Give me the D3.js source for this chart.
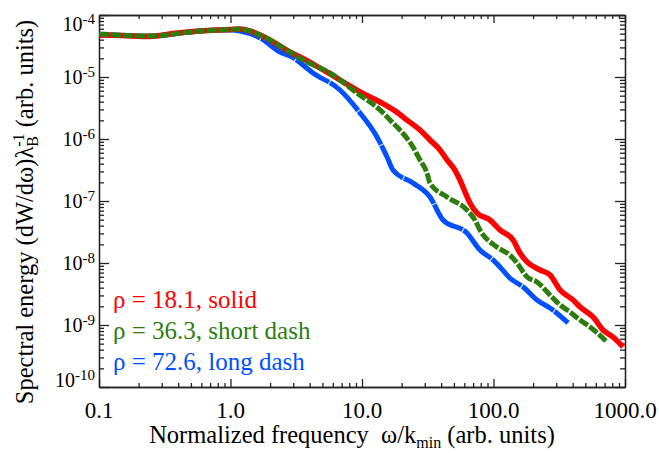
<!DOCTYPE html>
<meta charset="utf-8">

<head>
  <script src="https://d3js.org/d3.v7.min.js"></script>
</head>
<style>
  body {
    margin: 0;
    background: #fff;
  }

  text {
    font-family: "Liberation Serif", "Times New Roman", serif;
  }

  .axis path,
  .axis line {
    stroke: #222;
    stroke-width: 1.3;
  }
</style>

<body>
  <script>
    // spectra: frequency (omega/k_min) and energy
    var redFreq = [0.1, 0.15, 0.244, 0.392, 0.586, 1.0, 1.18, 1.41, 1.68, 2.18, 2.83, 3.38, 4.39, 5.71, 7.43, 9.66, 13.7, 18.8, 22.0, 27.6, 32.9, 39.2, 44.3, 50.9, 55.6, 60.7, 66.2, 75.0, 94.0, 112, 141, 159, 180, 226, 269, 321, 403, 455, 571, 681, 811, 966];
    var redEnergy = [4.76e-5, 4.67e-5, 4.50e-5, 5.13e-5, 5.52e-5, 5.83e-5, 5.94e-5, 5.52e-5, 4.76e-5, 3.54e-5, 2.53e-5, 2.10e-5, 1.56e-5, 1.12e-5, 8.0e-6, 5.73e-6, 3.95e-6, 2.63e-6, 2.02e-6, 1.40e-6, 9.64e-7, 6.65e-7, 4.59e-7, 3.16e-7, 2.18e-7, 1.40e-7, 9.29e-8, 6.40e-8, 4.94e-8, 3.40e-8, 2.35e-8, 1.45e-8, 1.04e-8, 7.71e-9, 6.40e-9, 3.67e-9, 2.53e-9, 1.95e-9, 1.35e-9, 8.30e-10, 6.40e-10, 4.42e-10];

    var greenFreq = [0.1, 0.244, 0.586, 1.0, 1.18, 1.68, 2.83, 3.56, 5.71, 9.16, 13.7, 17.2, 18.8, 24.4, 27.6, 31.2, 32.9, 44.3, 62.8, 72.3, 78.9, 106, 133, 151, 180, 214, 269, 321, 382, 455, 542, 730];
    var greenEnergy = [4.94e-5, 4.59e-5, 5.52e-5, 5.83e-5, 5.94e-5, 4.76e-5, 2.53e-5, 1.88e-5, 1.16e-5, 5.52e-6, 2.94e-6, 1.81e-6, 1.50e-6, 7.43e-7, 4.59e-7, 2.83e-7, 1.95e-7, 1.16e-7, 7.16e-8, 4.94e-8, 3.40e-8, 1.81e-8, 1.35e-8, 1.0e-8, 5.94e-9, 4.94e-9, 3.05e-9, 2.10e-9, 1.62e-9, 1.20e-9, 9.29e-10, 5.32e-10];

    var blueFreq = [0.1, 0.244, 0.586, 1.0, 1.18, 1.68, 2.38, 2.94, 4.24, 6.80, 9.66, 13.0, 15.5, 17.2, 24.4, 32.9, 41.3, 62.8, 78.9, 99.1, 112, 133, 168, 214, 269, 369];
    var blueEnergy = [4.76e-5, 4.59e-5, 5.52e-5, 5.73e-5, 5.52e-5, 4.26e-5, 2.53e-5, 2.10e-5, 1.16e-5, 6.17e-6, 2.63e-6, 1.08e-6, 5.13e-7, 3.16e-7, 1.95e-7, 1.16e-7, 4.94e-8, 3.05e-8, 1.62e-8, 1.12e-8, 8.61e-9, 5.73e-9, 4.10e-9, 2.53e-9, 1.88e-9, 1.08e-9];

    var legendLabels = ["\u03c1 = 18.1, solid", "\u03c1 = 36.3, short dash", "\u03c1 = 72.6, long dash"];

    var xTicks = [0.1, 1, 10, 100, 1000];
    var xTickLabels = ["0.1", "1.0", "10.0", "100.0", "1000.0"];
    var yTicks = [1e-4, 1e-5, 1e-6, 1e-7, 1e-8, 1e-9, 1e-10];
    var yTickExps = ["-4", "-5", "-6", "-7", "-8", "-9", "-10"];

    var width = 659, height = 453;
    // plot frame (window.top is read-only, so not "top")
    var x0 = 99, x1 = 625, y0 = 15, y1 = 387;

    var svg = d3.select("body").append("svg")
      .attr("width", width)
      .attr("height", height);

    var x = d3.scaleLog().domain([0.1, 1000]).range([x0, x1]);
    var y = d3.scaleLog().domain([1e-10, 1e-4]).range([y1, y0]);

    // minor ticks 2..9 in every decade
    function minors(ticks) {
      var out = [];
      ticks.slice(0, -1).forEach(function (d) {
        for (var k = 2; k < 10; k++) out.push(d * k);
      });
      return out;
    }
    var xMinor = minors(xTicks);
    var yMinor = minors(yTicks.slice().reverse());

    // 4 axes, ticks pointing inward
    function drawAxis(axis, tx, ty, vals, size) {
      svg.append("g")
        .attr("class", "axis")
        .attr("transform", "translate(" + tx + "," + ty + ")")
        .call(axis.tickValues(vals).tickSizeInner(size).tickSizeOuter(0).tickFormat(""));
    }
    drawAxis(d3.axisBottom(x), 0, y1, xTicks, -8);
    drawAxis(d3.axisBottom(x), 0, y1, xMinor, -4);
    drawAxis(d3.axisTop(x), 0, y0, xTicks, -8);
    drawAxis(d3.axisTop(x), 0, y0, xMinor, -4);
    drawAxis(d3.axisLeft(y), x0, 0, yTicks, -10);
    drawAxis(d3.axisLeft(y), x0, 0, yMinor, -5);
    drawAxis(d3.axisRight(y), x1, 0, yTicks, -10);
    drawAxis(d3.axisRight(y), x1, 0, yMinor, -5);

    // x tick labels
    svg.selectAll(".xlab")
      .data(xTicks)
      .enter().append("text")
      .attr("class", "xlab")
      .attr("x", function (d) { return x(d); })
      .attr("y", y1 + 31)
      .attr("text-anchor", "middle")
      .attr("font-size", 23)
      .text(function (d, i) { return xTickLabels[i]; });

    // y tick labels 10^n, kept inside the frame at both ends
    var ylab = svg.selectAll(".ylab")
      .data(yTicks)
      .enter().append("text")
      .attr("class", "ylab")
      .attr("x", 95)
      .attr("y", function (d) { return Math.max(31, Math.min(y1, y(d) + 7)); })
      .attr("text-anchor", "end")
      .attr("font-size", 20);
    ylab.append("tspan").text("10");
    ylab.append("tspan")
      .attr("dy", -7)
      .attr("font-size", 15)
      .text(function (d, i) { return yTickExps[i]; });

    // curves
    var line = d3.line()
      .x(function (d) { return x(d[0]); })
      .y(function (d) { return y(d[1]); })
      .curve(d3.curveMonotoneX);

    var series = [
      { f: blueFreq, e: blueEnergy, color: "#0050ff", dash: "40,1", w: 5 },
      { f: redFreq, e: redEnergy, color: "#ff0000", dash: null, w: 5.5 },
      { f: greenFreq, e: greenEnergy, color: "#2d7d0c", dash: "10,2", w: 5 }
    ];

    series.forEach(function (s) {
      svg.append("path")
        .datum(d3.zip(s.f, s.e))
        .attr("fill", "none")
        .attr("stroke", s.color)
        .attr("stroke-width", s.w)
        .attr("stroke-linejoin", "round")
        .attr("stroke-dasharray", s.dash)
        .attr("d", line);
    });

    // legend
    var legendColors = ["#ff0000", "#2d7d0c", "#0050ff"];
    svg.selectAll(".leg")
      .data(legendLabels)
      .enter().append("text")
      .attr("class", "leg")
      .attr("x", 113)
      .attr("y", function (d, i) { return 308 + i * 31; })
      .attr("font-size", 25)
      .attr("fill", function (d, i) { return legendColors[i]; })
      .text(function (d) { return d; });

    // axis titles
    var xt = svg.append("text")
      .attr("x", 352)
      .attr("y", 443)
      .attr("text-anchor", "middle")
      .attr("font-size", 24.5)
      .attr("xml:space", "preserve");
    xt.append("tspan").text("Normalized frequency  \u03c9/k");
    xt.append("tspan").attr("dy", 5).attr("font-size", 16).text("min");
    xt.append("tspan").attr("dy", -5).text(" (arb. units)");

    var yt = svg.append("text")
      .attr("transform", "translate(33,212) rotate(-90)")
      .attr("text-anchor", "middle")
      .attr("font-size", 24.5);
    yt.append("tspan").text("Spectral energy (dW/d\u03c9)\u03bb");
    yt.append("tspan").attr("dy", 5).attr("font-size", 16).text("B");
    yt.append("tspan").attr("dx", -10.7).attr("dy", -14).attr("font-size", 16).text("-1");
    yt.append("tspan").attr("dy", 9).text(" (arb. units)");
  </script>
